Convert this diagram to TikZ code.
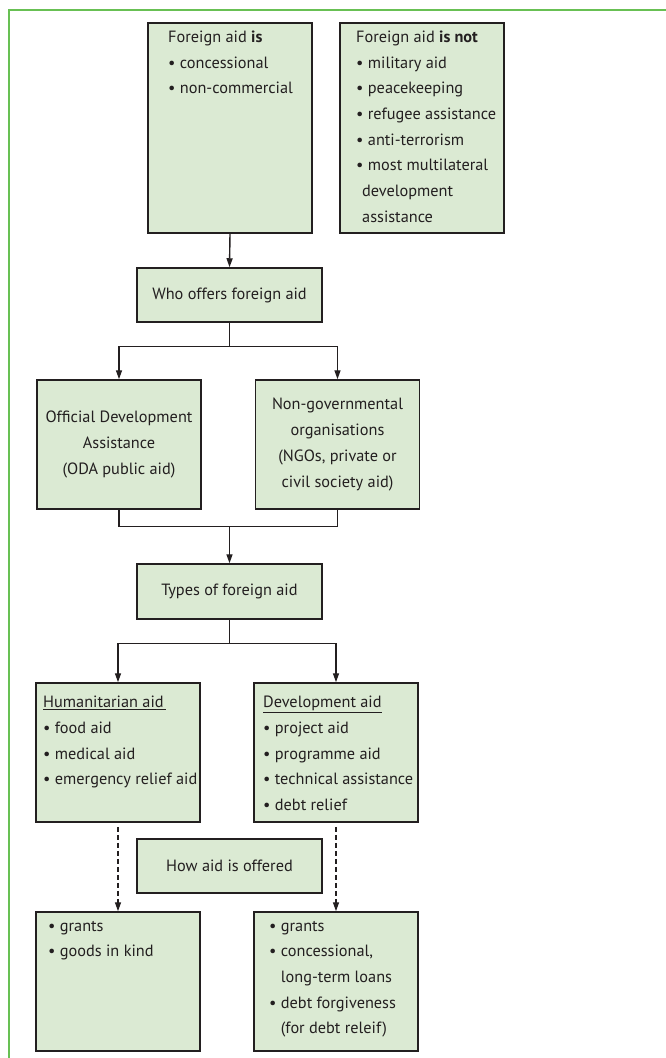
\documentclass[tikz,border=0pt]{standalone}
\usepackage{fontspec}
\setmainfont{PT Sans}
\usetikzlibrary{arrows.meta}
\definecolor{boxfill}{RGB}{219,234,211}
\definecolor{boxline}{RGB}{35,31,32}
\definecolor{framegreen}{RGB}{104,192,84}
\newcommand{\mylines}[2]{\parbox[t]{#1}{\fontsize{16.3}{25.7}\selectfont #2}}
\tikzset{
  box/.style={draw=boxline, fill=boxfill, line width=1.5pt, inner sep=0pt,
    font=\fontsize{16.3}{25.7}\selectfont, align=center, text=boxline},
  conn/.style={draw=boxline, line width=1.4pt},
  arr/.style={conn, -{Triangle[length=9pt,width=6pt]}},
  dsh/.style={arr, dash pattern=on 5pt off 3pt},
  txt/.style={anchor=base west, inner sep=0pt, text=boxline},
  frm/.style={draw=framegreen, line width=1.2pt}
}
\begin{document}
\begin{tikzpicture}[x=1pt,y=-1pt]
\useasboundingbox (0,0) rectangle (666,1058);
\coordinate (f1) at (9,1058);
\coordinate (f2) at (9,10);
\coordinate (f3) at (666,10);
\draw[frm] (f1) -- (f2) -- (f3);

% boxes
\node[box, minimum width=164pt, minimum height=210pt] (is) at (230,128) {};
\node[box, minimum width=164pt, minimum height=210pt] (isnot) at (422,128) {};
\node[box, minimum width=185pt, minimum height=54pt] (who) at (229.5,295) {Who offers foreign aid};
\node[box, minimum width=164pt, minimum height=129pt] (oda) at (119,444.5) {Official Development\\Assistance\\(ODA public aid)};
\node[box, minimum width=164pt, minimum height=129pt] (ngo) at (337.5,444.5) {Non-governmental\\organisations\\(NGOs, private or\\civil society aid)};
\node[box, minimum width=185pt, minimum height=55pt] (types) at (229.5,591.5) {Types of foreign aid};
\node[box, minimum width=164pt, minimum height=139pt] (hum) at (118,752.5) {};
\node[box, minimum width=164pt, minimum height=139pt] (dev) at (336,752.5) {};
\node[box, minimum width=185pt, minimum height=54pt] (how) at (229.5,866) {How aid is offered};
\node[box, minimum width=164pt, minimum height=139pt] (bl) at (118,981.5) {};
\node[box, minimum width=164pt, minimum height=139pt] (br) at (336,981.5) {};

% texts in list boxes
\node[txt] (istxt) at (168,42.3) {\mylines{140pt}{Foreign aid \textbf{is}\\• concessional\\• non-commercial}};
\node[txt] (isnottxt) at (356,42.3) {\mylines{145pt}{Foreign aid \textbf{is not}\\• military aid\\• peacekeeping\\• refugee assistance\\• anti-terrorism\\• most multilateral\\\hspace*{6pt}development\\\hspace*{6pt}assistance}};
\node[txt] (humtxt) at (43,707.7) {\mylines{155pt}{\underline{Humanitarian aid\,}\\• food aid\\• medical aid\\• emergency relief aid}};
\node[txt] (devtxt) at (263,707.7) {\mylines{150pt}{\underline{Development aid}\\• project aid\\• programme aid\\• technical assistance\\• debt relief}};
\node[txt] (bltxt) at (48,931) {\mylines{145pt}{• grants\\• goods in kind}};
\node[txt] (brtxt) at (269,931) {\mylines{145pt}{• grants\\• concessional,\\\phantom{• }long-term loans\\• debt forgiveness\\\phantom{• }(for debt releif)}};

% connectors
\draw[arr] (is.south) -- (who.north);
\coordinate (j1) at ([yshift=-24pt]who.south);
\draw[conn] (who.south) -- (j1);
\draw[arr] (j1) -| (oda.north);
\draw[arr] (j1) -| (ngo.north);
\coordinate (j2) at ([yshift=37pt]types.north);
\draw[conn] (oda.south) |- (j2) -| (ngo.south);
\draw[arr] (j2) -- (types.north);
\coordinate (j3) at ([yshift=-24pt]types.south);
\draw[conn] (types.south) -- (j3);
\draw[arr] (j3) -| (hum.north);
\draw[arr] (j3) -| (dev.north);
\draw[dsh] ([yshift=-4pt]hum.south) -- (bl.north);
\draw[dsh] ([yshift=-4pt]dev.south) -- (br.north);
\end{tikzpicture}
\end{document}
